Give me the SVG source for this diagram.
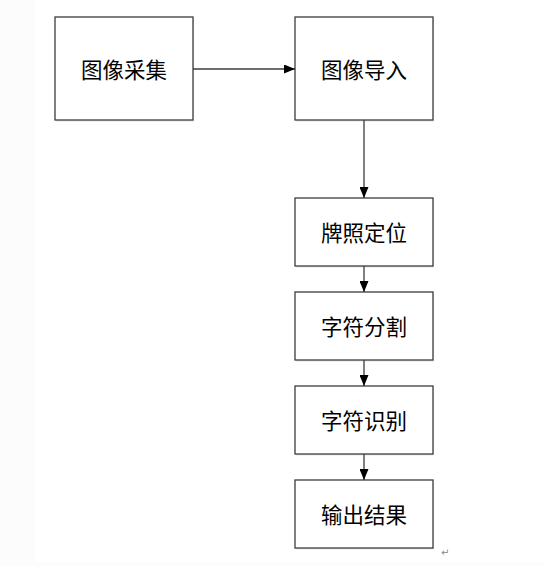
<svg xmlns="http://www.w3.org/2000/svg" width="545" height="566" viewBox="0 0 545 566">
<defs>
<marker id="arr" viewBox="0 0 11 9" refX="11" refY="4.5" markerWidth="11" markerHeight="9" markerUnits="userSpaceOnUse" orient="auto">
<path d="M0,0 L11,4.5 L0,9 z" fill="#000"/>
</marker>
</defs>
<style>
.box{fill:#fff;stroke:#3c3c3c;stroke-width:1.3}
.sh{fill:#dfe6ef}
.lbl{font-family:"Noto Sans CJK SC","Noto Sans",sans-serif;font-size:21.5px;fill:#000;text-anchor:middle;dominant-baseline:central}
.ln{stroke:#3c3c3c;stroke-width:1.3;fill:none;marker-end:url(#arr)}
</style>
<rect x="0" y="0" width="545" height="566" fill="#fff"/>
<rect x="0" y="0" width="35" height="566" fill="#fcfcfc"/>
<rect x="35" y="562" width="510" height="4" fill="#fcfcfc"/>
<g id="n1"><rect class="sh" x="56" y="18.5" width="138" height="103"/><rect class="box" x="55" y="17" width="138" height="103"/><text class="lbl" x="124" y="68">图像采集</text></g>
<g id="n2"><rect class="sh" x="296" y="18.5" width="138" height="103"/><rect class="box" x="295" y="17" width="138" height="103"/><text class="lbl" x="364" y="68">图像导入</text></g>
<g id="n3"><rect class="sh" x="296" y="199.5" width="138" height="68"/><rect class="box" x="295" y="198" width="138" height="68"/><text class="lbl" x="364" y="231">牌照定位</text></g>
<g id="n4"><rect class="sh" x="296" y="293.5" width="138" height="68"/><rect class="box" x="295" y="292" width="138" height="68"/><text class="lbl" x="364" y="325">字符分割</text></g>
<g id="n5"><rect class="sh" x="296" y="387.5" width="138" height="68"/><rect class="box" x="295" y="386" width="138" height="68"/><text class="lbl" x="364" y="419">字符识别</text></g>
<g id="n6"><rect class="sh" x="296" y="481.5" width="138" height="68"/><rect class="box" x="295" y="480" width="138" height="68"/><text class="lbl" x="364" y="513">输出结果</text></g>
<g id="edges">
<line class="ln" x1="193" y1="69" x2="295" y2="69"/>
<line class="ln" x1="364" y1="120" x2="364" y2="198"/>
<line class="ln" x1="364" y1="266" x2="364" y2="292"/>
<line class="ln" x1="364" y1="360" x2="364" y2="386"/>
<line class="ln" x1="364" y1="454" x2="364" y2="480"/>
</g>
<text x="441" y="556" font-family="DejaVu Sans,sans-serif" font-size="10" fill="#888">↵</text>
</svg>
